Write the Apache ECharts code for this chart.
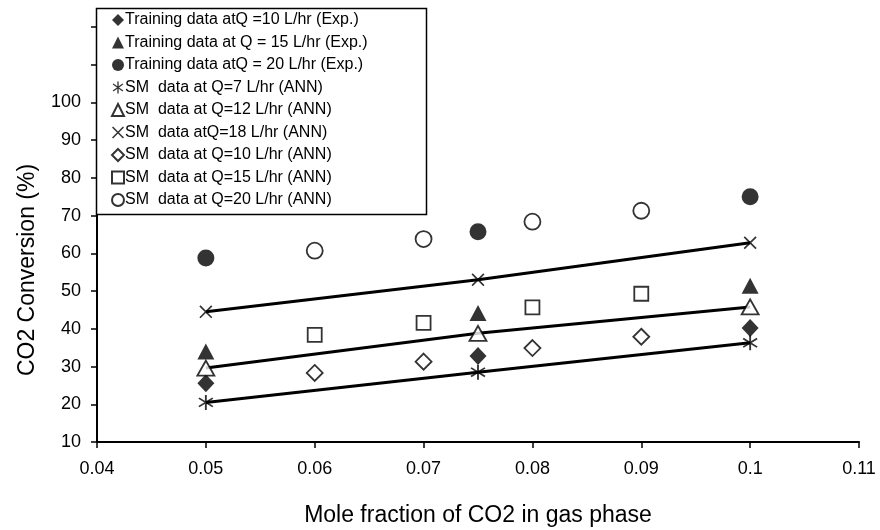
<!DOCTYPE html>
<html>
<head>
<meta charset="utf-8">
<script src="https://cdn.jsdelivr.net/npm/echarts@6/dist/echarts.min.js"></script>
<style>
  html, body { margin: 0; padding: 0; background: #fff; }
  #chart { width: 880px; height: 530px; }
</style>
</head>
<body>
<div id="chart"></div>
<script>
// Mole fractions where measurements / network predictions were taken
var xTrain = [0.05, 0.075, 0.1];
var xGrid = [0.06, 0.07, 0.08, 0.09];

// Experimental training data (CO2 conversion, %)
var train10 = [25.6, 32.8, 40.2];
var train15 = [34.0, 44.2, 51.4];
var train20 = [58.8, 65.7, 75.0];

// Surrogate model predictions (ANN) at unseen flow rates
var ann7 = [20.5, 28.5, 36.3];
var ann12 = [29.6, 38.8, 45.8];
var ann18 = [44.5, 53.0, 62.8];

// Surrogate model predictions at intermediate mole fractions
var ann10 = [28.3, 31.3, 34.9, 37.9];
var ann15 = [38.4, 41.6, 45.7, 49.3];
var ann20 = [60.7, 63.8, 68.4, 71.3];

var legendNames = [
  'Training data atQ =10 L/hr (Exp.)',
  'Training data at Q = 15 L/hr (Exp.)',
  'Training data atQ = 20 L/hr (Exp.)',
  'SM  data at Q=7 L/hr (ANN)',
  'SM  data at Q=12 L/hr (ANN)',
  'SM  data atQ=18 L/hr (ANN)',
  'SM  data at Q=10 L/hr (ANN)',
  'SM  data at Q=15 L/hr (ANN)',
  'SM  data at Q=20 L/hr (ANN)'
];

// Filled polygon built from thin bars crossing at the centre
function barsPath(angles, halfLen, halfW) {
  var d = '';
  angles.forEach(function (deg) {
    var a = deg * Math.PI / 180;
    var cx = Math.cos(a), cy = Math.sin(a);
    var nx = -cy, ny = cx;
    var pts = [
      [ halfLen * cx + halfW * nx,  halfLen * cy + halfW * ny],
      [-halfLen * cx + halfW * nx, -halfLen * cy + halfW * ny],
      [-halfLen * cx - halfW * nx, -halfLen * cy - halfW * ny],
      [ halfLen * cx - halfW * nx,  halfLen * cy - halfW * ny]
    ];
    d += 'M' + pts.map(function (p) { return p[0].toFixed(2) + ' ' + p[1].toFixed(2); }).join(' L') + ' Z ';
  });
  return 'path://' + d;
}
var asteriskSym = barsPath([90, 35, 145], 10, 1.1);
var crossSym = barsPath([45, 135], 10, 1.0);

function pairs(xs, ys) {
  return ys.map(function (y, i) { return [xs[i], y]; });
}

var FONT = 'Liberation Sans, Arial, sans-serif';
var filled = { color: '#000', borderWidth: 0 };
var hollow = { color: '#fff', borderColor: '#000', borderWidth: 1.8 };

function scatter(name, data, symbol, size, style, z) {
  return {
    name: name, type: 'scatter', data: data,
    symbol: symbol, symbolSize: size,
    itemStyle: style, z: z || 3,
    emphasis: { disabled: true }
  };
}
function fitLine(data) {
  return {
    type: 'line', data: data, symbol: 'none', smooth: false,
    lineStyle: { color: '#000', width: 3 }, z: 2,
    silent: true
  };
}

var option = {
  animation: false,
  backgroundColor: '#fff',
  grid: { left: 97, right: 21, top: 27, bottom: 88 },
  xAxis: {
    type: 'value', min: 0.04, max: 0.11, interval: 0.01,
    axisLine: { show: true, lineStyle: { color: '#000', width: 2 } },
    axisTick: { show: true, inside: false, length: 6, lineStyle: { color: '#000', width: 1.5 } },
    axisLabel: { color: '#000', fontFamily: FONT, fontSize: 18, margin: 18 },
    splitLine: { show: false }
  },
  yAxis: {
    type: 'value', min: 10, max: 120, interval: 10,
    axisLine: { show: true, lineStyle: { color: '#000', width: 2 } },
    axisTick: { show: true, inside: false, length: 6, lineStyle: { color: '#000', width: 1.5 } },
    axisLabel: {
      color: '#000', fontFamily: FONT, fontSize: 18, margin: 16,
      formatter: function (v) { return v <= 100 ? String(v) : ''; }
    },
    splitLine: { show: false }
  },
  legend: {
    orient: 'vertical', left: 111, top: 12, z: 60,
    itemWidth: 12, itemHeight: 12, itemGap: 6.5,
    padding: 0,
    textStyle: { color: '#000', fontFamily: FONT, fontSize: 16, padding: [0, 0, 0, -4] },
    data: [
      { name: legendNames[0], icon: 'diamond' },
      { name: legendNames[1], icon: 'triangle' },
      { name: legendNames[2], icon: 'circle' },
      { name: legendNames[3], icon: asteriskSym },
      { name: legendNames[4], icon: 'triangle' },
      { name: legendNames[5], icon: crossSym },
      { name: legendNames[6], icon: 'diamond' },
      { name: legendNames[7], icon: 'rect' },
      { name: legendNames[8], icon: 'circle' }
    ]
  },
  graphic: [
    {
      type: 'rect', z: 50, silent: true,
      shape: { x: 96.5, y: 8.5, width: 330, height: 206 },
      style: { fill: '#fff', stroke: '#000', lineWidth: 1.5 }
    },
    {
      type: 'text', x: 478, y: 516, silent: true,
      style: { text: 'Mole fraction of CO2 in gas phase', fill: '#000', font: '23px ' + FONT, align: 'center', verticalAlign: 'middle' }
    },
    {
      type: 'text', x: 28, y: 270, rotation: Math.PI / 2, silent: true,
      style: { text: 'CO2 Conversion (%)', fill: '#000', font: '23px ' + FONT, align: 'center', verticalAlign: 'middle' }
    }
  ],
  series: [
    fitLine(pairs(xTrain, ann7)),
    fitLine(pairs(xTrain, ann12)),
    fitLine(pairs(xTrain, ann18)),
    scatter(legendNames[8], pairs(xGrid, ann20), 'circle', 16, hollow, 3),
    scatter(legendNames[0], pairs(xTrain, train10), 'diamond', [17, 18], filled, 4),
    scatter(legendNames[1], pairs(xTrain, train15), 'triangle', [17, 16], filled, 4),
    scatter(legendNames[2], pairs(xTrain, train20), 'circle', 17, filled, 4),
    scatter(legendNames[3], pairs(xTrain, ann7), asteriskSym, [15, 15], filled, 5),
    scatter(legendNames[4], pairs(xTrain, ann12), 'triangle', [17, 15], hollow, 5),
    scatter(legendNames[5], pairs(xTrain, ann18), crossSym, [13, 13], filled, 5),
    scatter(legendNames[6], pairs(xGrid, ann10), 'diamond', [16, 16], hollow, 5),
    scatter(legendNames[7], pairs(xGrid, ann15), 'rect', 14, hollow, 5)
  ]
};

var chart = echarts.init(document.getElementById('chart'), null, { renderer: 'canvas' });
chart.setOption(option);
</script>
</body>
</html>
